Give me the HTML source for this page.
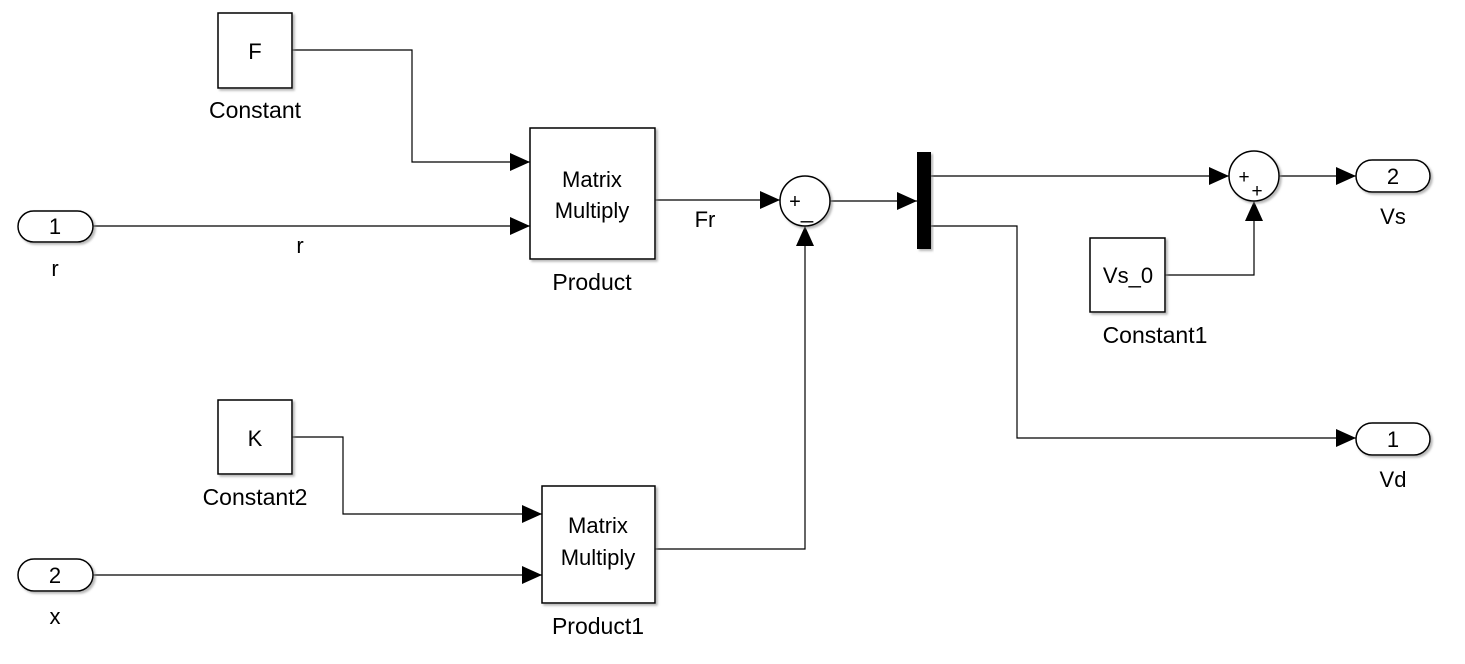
<!DOCTYPE html>
<html><head><meta charset="utf-8"><style>
html,body{margin:0;padding:0;background:#fff;}
svg{display:block;font-family:"Liberation Sans",Arial,sans-serif;}
</style></head><body>
<svg width="1465" height="664" viewBox="0 0 1465 664" xmlns="http://www.w3.org/2000/svg">
<defs>
<marker id="b" viewBox="0 0 20 20" markerWidth="20" markerHeight="20" refX="20" refY="10" orient="auto" markerUnits="userSpaceOnUse">
<path d="M0,1 L20,10 L0,19 Z" fill="#000"/></marker>
<filter id="s" x="-10%" y="-10%" width="130%" height="130%"><feDropShadow dx="2" dy="2" stdDeviation="1" flood-color="#888" flood-opacity="0.6"/></filter>
</defs>
<g fill="none" stroke="#000" stroke-width="1.2">
<polyline points="292,50 412,50 412,162 530,162" marker-end="url(#b)"/>
<polyline points="93,226 530,226" marker-end="url(#b)"/>
<polyline points="655,200 780,200" marker-end="url(#b)"/>
<polyline points="830,201 917,201" marker-end="url(#b)"/>
<polyline points="655,549 805,549 805,226" marker-end="url(#b)"/>
<polyline points="292,437 343,437 343,514 542,514" marker-end="url(#b)"/>
<polyline points="93,575 542,575" marker-end="url(#b)"/>
<polyline points="931,176 1229,176" marker-end="url(#b)"/>
<polyline points="931,226 1017,226 1017,438 1356,438" marker-end="url(#b)"/>
<polyline points="1165,275 1254,275 1254,201" marker-end="url(#b)"/>
<polyline points="1279,176 1356,176" marker-end="url(#b)"/>
</g>
<g fill="#fff" stroke="#000" stroke-width="1.5" filter="url(#s)">
<rect x="218" y="13" width="74" height="75"/>
<rect x="530" y="128" width="125" height="131"/>
<rect x="218" y="400" width="74" height="74"/>
<rect x="542" y="486" width="113" height="117"/>
<rect x="1090" y="238" width="75" height="74"/>
<rect x="18" y="211" width="75" height="31" rx="15.5"/>
<rect x="18" y="559" width="75" height="32" rx="16"/>
<rect x="1356" y="160" width="74" height="32" rx="16"/>
<rect x="1356" y="423" width="74" height="32" rx="16"/>
<circle cx="805" cy="201" r="25"/>
<circle cx="1254" cy="176" r="25"/>
</g>
<rect x="917" y="152" width="14" height="97" fill="#000" filter="url(#s)"/>
<g font-size="22" fill="#000" text-anchor="middle">
<text x="255" y="59">F</text>
<text x="255" y="118" font-size="23">Constant</text>
<text x="592" y="187">Matrix</text>
<text x="592" y="218">Multiply</text>
<text x="592" y="290" font-size="23">Product</text>
<text x="55" y="234">1</text>
<text x="55" y="276">r</text>
<text x="300" y="253">r</text>
<text x="705" y="227">Fr</text>
<text x="255" y="446">K</text>
<text x="255" y="505" font-size="23">Constant2</text>
<text x="598" y="533">Matrix</text>
<text x="598" y="565">Multiply</text>
<text x="598" y="634" font-size="23">Product1</text>
<text x="55" y="583">2</text>
<text x="55" y="624">x</text>
<text x="1128" y="283">Vs_0</text>
<text x="1155" y="343" font-size="23">Constant1</text>
<text x="1393" y="184">2</text>
<text x="1393" y="224">Vs</text>
<text x="1393" y="447">1</text>
<text x="1393" y="487">Vd</text>
<text x="795" y="208" font-size="20">+</text>
<text x="807" y="218" font-size="22">_</text>
<text x="1244" y="183" font-size="19">+</text>
<text x="1257" y="197" font-size="19">+</text>
</g>
</svg>
</body></html>
